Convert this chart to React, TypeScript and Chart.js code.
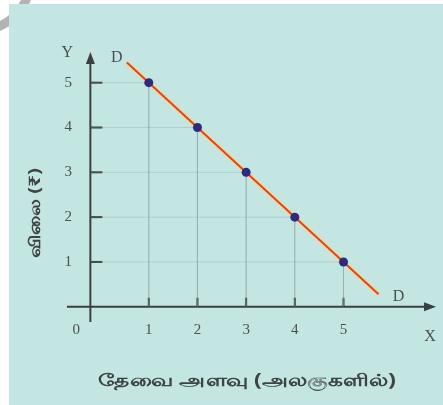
import React, { useEffect, useRef } from "react";
import { Chart, registerables } from "chart.js";

Chart.register(...registerables);

// ---- data ----
const quantities = [1, 2, 3, 4, 5]; // demand quantity (units)
const prices = [5, 4, 3, 2, 1]; // price (₹)
const demandLineX = [0.55, 5.72]; // DD curve end points (x)
const demandLineY = [5.45, 0.28]; // DD curve end points (y)
const xTickValues = [1, 2, 3, 4, 5];
const yTickValues = [1, 2, 3, 4, 5];
const xTickLabels = ["1", "2", "3", "4", "5"];
const yTickLabels = ["1", "2", "3", "4", "5"];
const xTitle = "தேவை அளவு (அலகுகளில்)";
const yTitle = "விலை (₹)";
const curveLabel = "D";
const originLabel = "0";
const xAxisLetter = "X";
const yAxisLetter = "Y";

// axis geometry (data units)
const X_MIN = -0.68;
const X_MAX = 6.9;
const Y_MIN = -0.34;
const Y_MAX = 5.64;
const Y_AXIS_AT_X = -0.2;
const X_AXIS_AT_Y = 0;

const BG = "#c3e6e3";
const AXIS = "#3a3f40";
const TEXT = "#4a4f50";
const SERIF = "'Liberation Serif', 'DejaVu Serif', serif";

function fittedText(ctx: any, text: string, cx: number, cy: number, targetWidth: number) {
  const w = ctx.measureText(text).width;
  const sx = targetWidth / w;
  ctx.save();
  ctx.translate(cx, cy);
  ctx.scale(sx, 1);
  ctx.fillText(text, 0, 0);
  ctx.restore();
}

const decorPlugin = {
  id: "decor",
  beforeDraw(chart: any) {
    const { ctx, width, height } = chart;
    ctx.save();
    ctx.fillStyle = "#ffffff";
    ctx.fillRect(0, 0, width, height);
    // grey ring partly hidden at the top-left corner
    ctx.strokeStyle = "#b2b4b4";
    ctx.lineWidth = 9;
    ctx.beginPath();
    ctx.arc(-20, -20, 50, 0, Math.PI * 2);
    ctx.stroke();
    ctx.fillStyle = BG;
    ctx.fillRect(9, 4, width - 9, height - 4);
    ctx.restore();
  },
  beforeDatasetsDraw(chart: any) {
    const { ctx } = chart;
    const xs = chart.scales.x;
    const ys = chart.scales.y;
    const ax = xs.getPixelForValue(Y_AXIS_AT_X);
    const ay = ys.getPixelForValue(X_AXIS_AT_Y);
    const left = xs.getPixelForValue(X_MIN);
    const right = xs.getPixelForValue(X_MAX);
    const top = ys.getPixelForValue(Y_MAX);
    const bottom = ys.getPixelForValue(Y_MIN);
    ctx.save();
    ctx.strokeStyle = AXIS;
    ctx.fillStyle = AXIS;
    ctx.lineWidth = 2;
    // x axis
    ctx.beginPath();
    ctx.moveTo(left, ay);
    ctx.lineTo(right - 8, ay);
    ctx.stroke();
    ctx.beginPath();
    ctx.moveTo(right, ay);
    ctx.lineTo(right - 12, ay - 4.5);
    ctx.lineTo(right - 12, ay + 4.5);
    ctx.closePath();
    ctx.fill();
    // y axis
    ctx.beginPath();
    ctx.moveTo(ax, bottom);
    ctx.lineTo(ax, top + 8);
    ctx.stroke();
    ctx.beginPath();
    ctx.moveTo(ax, top - 2);
    ctx.lineTo(ax - 4.5, top + 10);
    ctx.lineTo(ax + 4.5, top + 10);
    ctx.closePath();
    ctx.fill();
    // tick marks
    ctx.lineWidth = 2;
    yTickValues.forEach((v) => {
      const py = ys.getPixelForValue(v);
      ctx.beginPath();
      ctx.moveTo(ax, py);
      ctx.lineTo(ax + 12, py);
      ctx.stroke();
    });
    xTickValues.forEach((v) => {
      const px = xs.getPixelForValue(v);
      ctx.beginPath();
      ctx.moveTo(px, ay);
      ctx.lineTo(px, ay - 9);
      ctx.stroke();
    });
    // tick labels
    ctx.fillStyle = TEXT;
    ctx.font = `15px ${SERIF}`;
    ctx.textAlign = "center";
    ctx.textBaseline = "middle";
    yTickValues.forEach((v, i) => {
      ctx.fillText(yTickLabels[i], ax - 22, ys.getPixelForValue(v));
    });
    xTickValues.forEach((v, i) => {
      ctx.fillText(xTickLabels[i], xs.getPixelForValue(v), ay + 23);
    });
    ctx.fillText(originLabel, ax - 14, ay + 23);
    ctx.font = `16px ${SERIF}`;
    ctx.fillText(xAxisLetter, right - 6, ay + 30);
    ctx.fillText(yAxisLetter, ax - 23, top - 1);
    // curve labels
    ctx.fillText(
      curveLabel,
      xs.getPixelForValue(demandLineX[0]) - 10,
      ys.getPixelForValue(demandLineY[0]) - 5
    );
    ctx.fillText(
      curveLabel,
      xs.getPixelForValue(demandLineX[1]) + 20,
      ys.getPixelForValue(demandLineY[1]) + 3
    );
    // axis titles
    ctx.font = `bold 17px 'Noto Sans', sans-serif`;
    ctx.fillStyle = "#3e4344";
    fittedText(ctx, xTitle, 247, 381, 298);
    ctx.save();
    ctx.translate(35, 213);
    ctx.rotate(-Math.PI / 2);
    ctx.font = `bold 16px 'Noto Sans', sans-serif`;
    fittedText(ctx, yTitle, 0, 0, 90);
    ctx.restore();
    ctx.restore();
  },
};

export default function App() {
  const ref = useRef<HTMLCanvasElement | null>(null);

  useEffect(() => {
    document.body.style.margin = "0";
    if (!ref.current) return;

    const guideData: any[] = [];
    quantities.forEach((q, i) => {
      guideData.push({ x: Y_AXIS_AT_X, y: prices[i] });
      guideData.push({ x: q, y: prices[i] });
      guideData.push({ x: q, y: X_AXIS_AT_Y });
      guideData.push({ x: NaN, y: NaN });
    });
    const curve = demandLineX.map((x, i) => ({ x, y: demandLineY[i] }));
    const points = quantities.map((q, i) => ({ x: q, y: prices[i] }));

    // Chart.js paints dataset 0 last (on top)
    const chart = new Chart(ref.current, {
      type: "scatter",
      data: {
        datasets: [
          {
            label: "points",
            data: points,
            showLine: false,
            pointRadius: 4.5,
            pointBackgroundColor: "#2c2b7e",
            pointBorderColor: "#2c2b7e",
            pointBorderWidth: 0,
          },
          {
            label: "DD",
            data: curve,
            showLine: true,
            borderColor: "#d9472a",
            borderWidth: 2,
            pointRadius: 0,
          },
          {
            label: "glow",
            data: curve,
            showLine: true,
            borderColor: "rgba(248,215,140,0.8)",
            borderWidth: 5,
            pointRadius: 0,
          },
          {
            label: "guides",
            data: guideData,
            showLine: true,
            spanGaps: false,
            borderColor: "rgba(130,145,145,0.27)",
            borderWidth: 1,
            pointRadius: 0,
          },
        ],
      },
      options: {
        animation: false,
        responsive: false,
        devicePixelRatio: 1,
        layout: { padding: { left: 67, right: 7, top: 54, bottom: 83 } },
        plugins: {
          legend: { display: false },
          tooltip: { enabled: false },
        },
        scales: {
          x: { type: "linear", display: false, min: X_MIN, max: X_MAX },
          y: { type: "linear", display: false, min: Y_MIN, max: Y_MAX },
        },
      },
      plugins: [decorPlugin],
    });
    return () => chart.destroy();
  }, []);

  return (
    <div style={{ width: 443, height: 405 }}>
      <canvas ref={ref} width={443} height={405} style={{ display: "block" }} />
    </div>
  );
}
